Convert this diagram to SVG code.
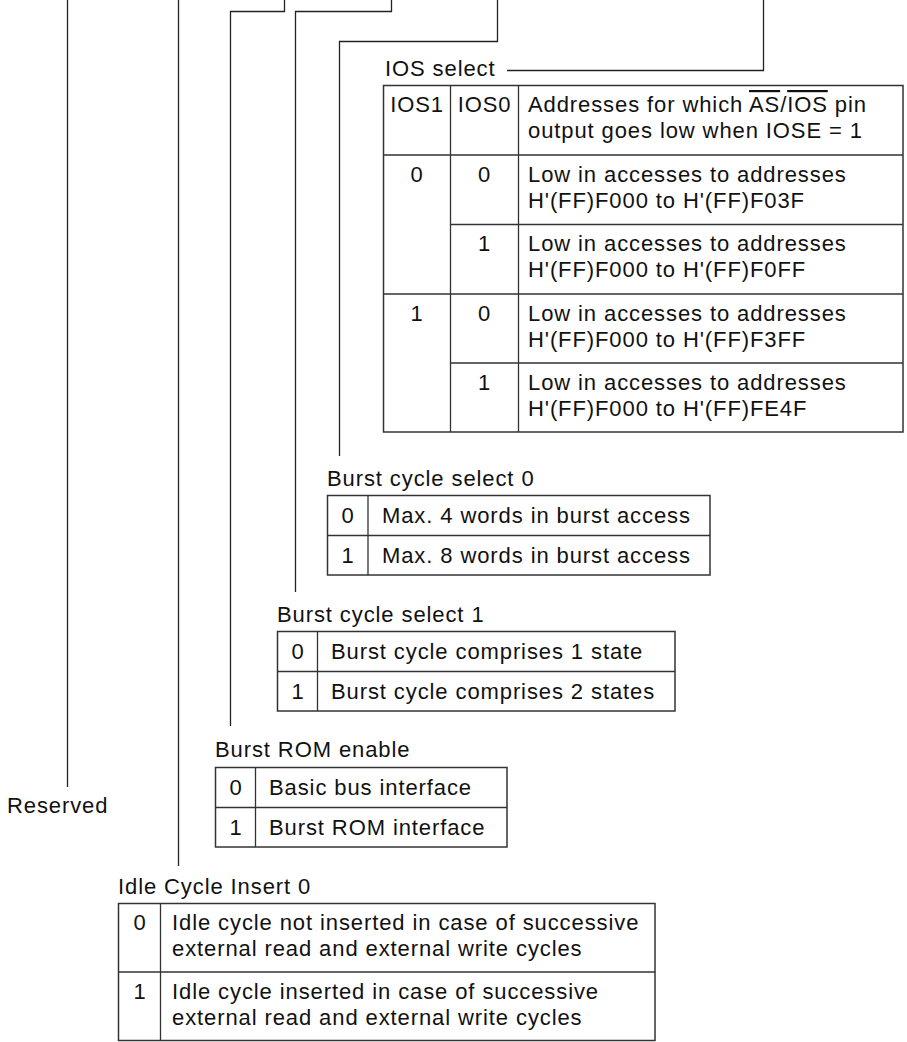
<svg xmlns="http://www.w3.org/2000/svg" width="907" height="1042" viewBox="0 0 907 1042">
<style>
text { font-family: "Liberation Sans", Arial, sans-serif; font-size: 22px; letter-spacing: 0.9px; fill: #111; }
.c { text-anchor: middle; }
.conn { fill: none; stroke: #222; stroke-width: 1.3; }
.box { fill: none; stroke: #333; stroke-width: 1.5; }
.grid { fill: none; stroke: #333; stroke-width: 1.3; }
.ov { text-decoration: overline; }
</style>
<rect x="0" y="0" width="907" height="1042" fill="#fff"/>
<g id="connectors" class="conn">
<path d="M67.5 0 V787"/>
<path d="M178.5 0 V866"/>
<path d="M284.5 0 V11.5 H230.5 V726"/>
<path d="M391.5 0 V11.5 H295.5 V592"/>
<path d="M497.5 0 V41.5 H339.5 V456"/>
<path d="M763.5 0 V70.5 H507"/>
</g>
<g id="ios-select">
<text x="385" y="76">IOS select</text>
<rect class="box" x="383.5" y="85.5" width="519.5" height="346.5"/>
<path class="grid" d="M450.5 85.5 V432 M518.5 85.5 V432 M383.5 155 H903 M450.5 224.5 H903 M383.5 294 H903 M450.5 363 H903"/>
<text class="c" x="417" y="112">IOS1</text>
<text class="c" x="484.5" y="112">IOS0</text>
<text x="528" y="112">Addresses for which <tspan class="ov">AS</tspan>/<tspan class="ov">IOS</tspan> pin</text>
<text x="528" y="138">output goes low when IOSE = 1</text>
<text class="c" x="417" y="182">0</text>
<text class="c" x="484.5" y="182">0</text>
<text x="528" y="182">Low in accesses to addresses</text>
<text x="528" y="208">H'(FF)F000 to H'(FF)F03F</text>
<text class="c" x="484.5" y="251">1</text>
<text x="528" y="251">Low in accesses to addresses</text>
<text x="528" y="277">H'(FF)F000 to H'(FF)F0FF</text>
<text class="c" x="417" y="321">1</text>
<text class="c" x="484.5" y="321">0</text>
<text x="528" y="321">Low in accesses to addresses</text>
<text x="528" y="347">H'(FF)F000 to H'(FF)F3FF</text>
<text class="c" x="484.5" y="390">1</text>
<text x="528" y="390">Low in accesses to addresses</text>
<text x="528" y="416">H'(FF)F000 to H'(FF)FE4F</text>
</g>
<g id="burst-cycle-select-0">
<text x="327" y="486">Burst cycle select 0</text>
<rect class="box" x="327.5" y="495.5" width="382.5" height="79.5"/>
<path class="grid" d="M368 495.5 V575 M327.5 535.5 H710"/>
<text class="c" x="348" y="523">0</text>
<text x="382" y="523">Max. 4 words in burst access</text>
<text class="c" x="348" y="563">1</text>
<text x="382" y="563">Max. 8 words in burst access</text>
</g>
<g id="burst-cycle-select-1">
<text x="277" y="622">Burst cycle select 1</text>
<rect class="box" x="277.5" y="631.5" width="397.5" height="79.5"/>
<path class="grid" d="M317.5 631.5 V711 M277.5 671.5 H675"/>
<text class="c" x="298" y="659">0</text>
<text x="331" y="659">Burst cycle comprises 1 state</text>
<text class="c" x="298" y="699">1</text>
<text x="331" y="699">Burst cycle comprises 2 states</text>
</g>
<g id="burst-rom-enable">
<text x="215" y="757">Burst ROM enable</text>
<rect class="box" x="215.5" y="767.5" width="291.5" height="79.5"/>
<path class="grid" d="M255.5 767.5 V847 M215.5 807.5 H507"/>
<text class="c" x="236" y="795">0</text>
<text x="269" y="795">Basic bus interface</text>
<text class="c" x="236" y="835">1</text>
<text x="269" y="835">Burst ROM interface</text>
</g>
<g id="reserved">
<text x="7" y="813">Reserved</text>
</g>
<g id="idle-cycle-insert-0">
<text x="118" y="894">Idle Cycle Insert 0</text>
<rect class="box" x="118.5" y="903.5" width="536.5" height="137"/>
<path class="grid" d="M160.5 903.5 V1040.5 M118.5 972 H655"/>
<text class="c" x="140" y="930">0</text>
<text x="172" y="930">Idle cycle not inserted in case of successive</text>
<text x="172" y="956">external read and external write cycles</text>
<text class="c" x="140" y="999">1</text>
<text x="172" y="999">Idle cycle inserted in case of successive</text>
<text x="172" y="1025">external read and external write cycles</text>
</g>
</svg>
